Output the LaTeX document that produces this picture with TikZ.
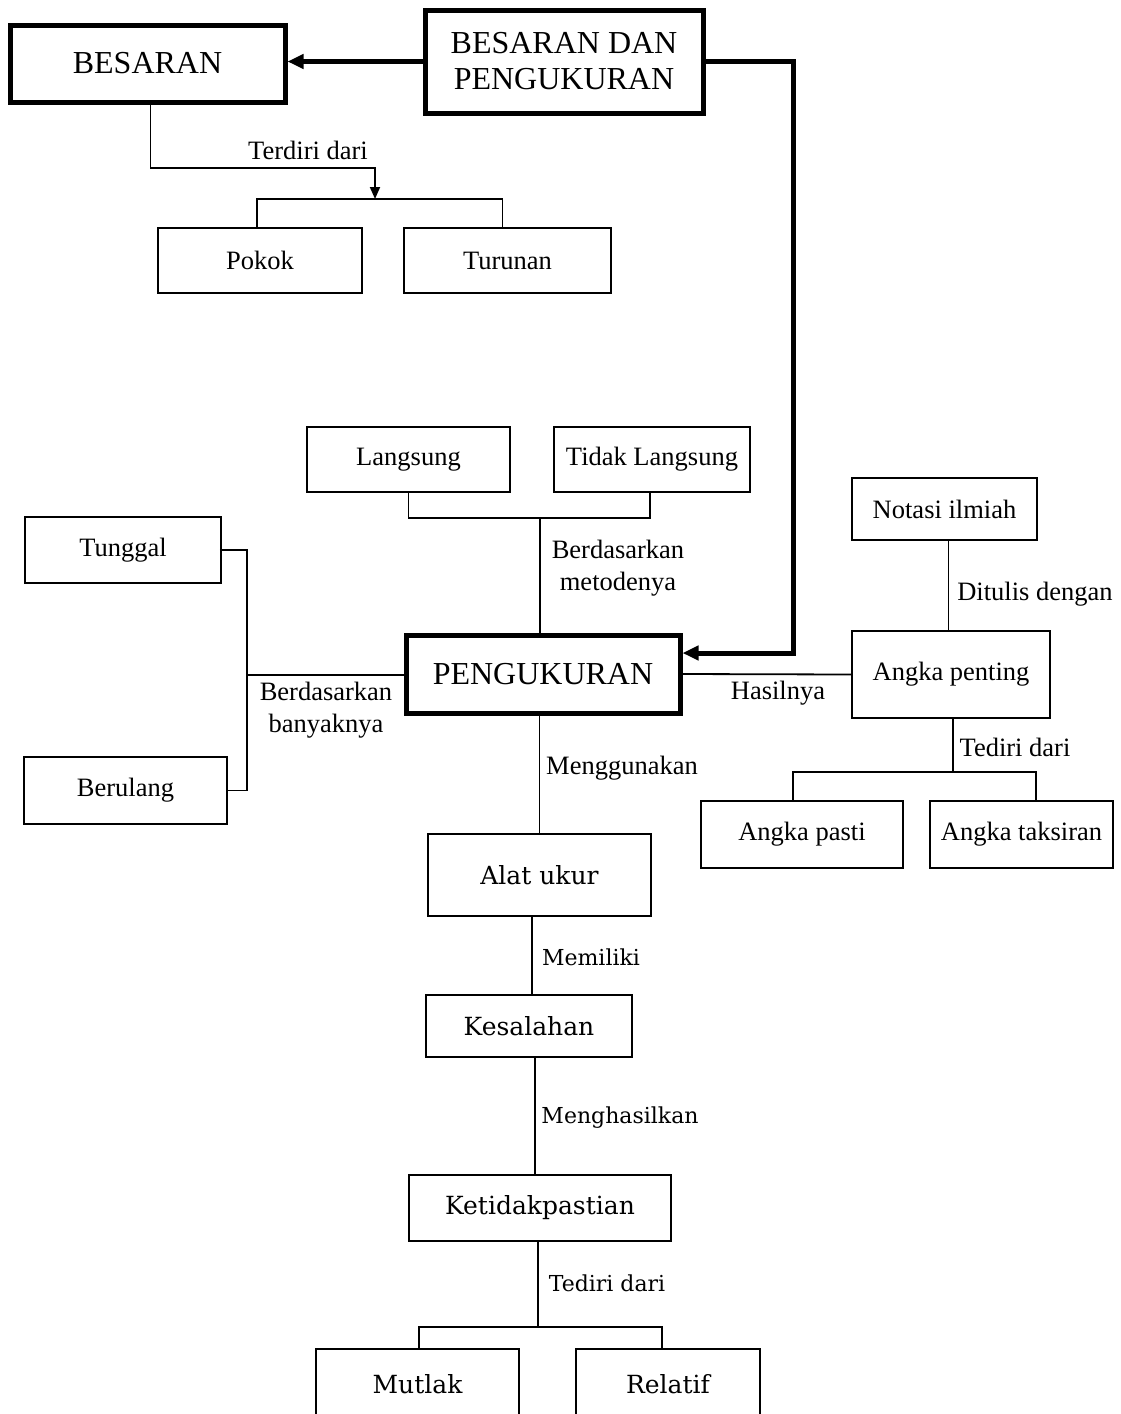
\documentclass[tikz,border=0pt]{standalone}
\usepackage{fontspec}
\setmainfont{Liberation Serif}
\newfontfamily\cambria{DejaVu Serif}
\usepackage{tikz}
\usetikzlibrary{arrows.meta}

\begin{document}
\begin{tikzpicture}[x=1pt, y=-1pt,
    box/.style={draw, line width=1.8pt, inner sep=0pt, font=\fontsize{26.5}{30}\selectfont},
    mainbox/.style={draw, line width=5pt, inner sep=0pt, align=center, font=\fontsize{32}{36}\selectfont},
    cbox/.style={draw, line width=1.8pt, inner sep=0pt, font=\cambria\fontsize{25}{30}\selectfont},
    lbl/.style={inner sep=0pt, align=center, font=\fontsize{26.5}{32}\selectfont},
    clbl/.style={inner sep=0pt, font=\cambria\fontsize{22}{26}\selectfont},
    link/.style={line width=1.8pt},
    heavy/.style={line width=5pt, -{Triangle[length=16pt,width=14pt]}}]
      \useasboundingbox (0,0) rectangle (1121,1414);
      \clip (0,0) rectangle (1121,1414);

      % main boxes
      \node[mainbox, minimum width=275pt, minimum height=77pt] (besaran) at (147.5,63.5) {BESARAN};
      \node[mainbox, minimum width=278pt, minimum height=103pt] (bdp) at (564,61.5) {BESARAN DAN\\PENGUKURAN};
      \node[mainbox, minimum width=274pt, minimum height=78pt] (pengukuran) at (543,674) {PENGUKURAN};

      \node[box, minimum width=204pt, minimum height=65pt] (pokok) at (260,260.5) {Pokok};
      \node[box, minimum width=207pt, minimum height=65pt] (turunan) at (507.5,260.5) {Turunan};
      \node[box, minimum width=203pt, minimum height=65pt] (langsung) at (408.5,459.5) {Langsung};
      \node[box, minimum width=196pt, minimum height=65pt] (tidak) at (652,459.5) {Tidak Langsung};
      \node[box, minimum width=196pt, minimum height=66pt] (tunggal) at (123,550) {Tunggal};
      \node[box, minimum width=203pt, minimum height=67pt] (berulang) at (125.5,790.5) {Berulang};
      \node[box, minimum width=185pt, minimum height=62pt] (notasi) at (944.5,509) {Notasi ilmiah};
      \node[box, minimum width=198pt, minimum height=87pt] (penting) at (951,674.5) {Angka penting};
      \node[box, minimum width=202pt, minimum height=67pt] (pasti) at (802,834.5) {Angka pasti};
      \node[box, minimum width=183pt, minimum height=67pt] (taksiran) at (1021.5,834.5) {Angka taksiran};

      \node[cbox, minimum width=223pt, minimum height=82pt] (alat) at (539.5,875) {Alat ukur};
      \node[cbox, minimum width=206pt, minimum height=62pt] (kesalahan) at (529,1026) {Kesalahan};
      \node[cbox, minimum width=262pt, minimum height=66pt] (ketidakpastian) at (540,1208) {Ketidakpastian};
      \node[cbox, minimum width=203pt, minimum height=70pt] (mutlak) at (417.5,1384) {Mutlak};
      \node[cbox, minimum width=184pt, minimum height=70pt] (relatif) at (668,1384) {Relatif};

      % split points
      \coordinate (tjoin) at (375,168);
      \coordinate (tsplit) at (375,199);
      \coordinate (bend) at (793,653);
      \coordinate (msplit) at (540,518);
      \coordinate (bsplit) at (247,675);
      \coordinate (asplit) at (953,772);
      \coordinate (ksplit) at (538,1327);

      % heavy arrows
      \draw[heavy] (bdp.west) -- (bdp.west -| besaran.east);
      \draw[heavy] (bdp.east) -| (bend) -- (bend -| pengukuran.east);

      % besaran
      \draw[link, -{Triangle[length=12pt,width=10pt]}] ([xshift=3pt]besaran.south) |- (tjoin) -- (tsplit);
      \draw[link] ([xshift=-3pt]pokok.north) |- (tsplit) -| ([xshift=-5pt]turunan.north);
      \node[lbl] (lterdiri) at (308,150) {Terdiri dari};

      % pengukuran
      \draw[link] (langsung.south) |- (msplit) -| ([xshift=-2pt]tidak.south);
      \draw[link] (msplit) -- (msplit |- pengukuran.north);
      \node[lbl] (lmetode) at (618,568) {Berdasarkan\\metodenya};

      \draw[link] ([xshift=-2pt]tunggal.east) -| (bsplit) |- (berulang.east);
      \draw[link] (bsplit) -- (bsplit -| pengukuran.west);
      \node[lbl] (lbanyak) at (326,710) {Berdasarkan\\banyaknya};

      \draw[link] (pengukuran.east) -- (penting.west);
      \node[lbl] (lhasil) at (778,693) {Hasilnya};

      \draw[link] ([xshift=4pt]notasi.south) -- ([xshift=4pt]notasi.south |- penting.north);
      \node[lbl] (ltulis) at (1035,594) {Ditulis dengan};

      \draw[link] (asplit |- penting.south) -- (asplit);
      \draw[link] ([xshift=-9pt]pasti.north) |- (asplit) -| ([xshift=14.5pt]taksiran.north);
      \node[lbl] (ltediri) at (1015,747) {Tediri dari};

      \draw[link] (alat.north |- pengukuran.south) -- (alat.north);
      \node[lbl] (lguna) at (622,768) {Menggunakan};

      \draw[link] ([xshift=3pt]kesalahan.north |- alat.south) -- ([xshift=3pt]kesalahan.north);
      \node[clbl] (lmiliki) at (591,957) {Memiliki};

      \draw[link] ([xshift=6pt]kesalahan.south) -- ([xshift=6pt]kesalahan.south |- ketidakpastian.north);
      \node[clbl] (lhasilkan) at (620,1118) {Menghasilkan};

      \draw[link] (ksplit |- ketidakpastian.south) -- (ksplit);
      \draw[link] ([xshift=1.5pt]mutlak.north) |- (ksplit) -| ([xshift=-6pt]relatif.north);
      \node[clbl] (lterdiri2) at (607,1283) {Tediri dari};
\end{tikzpicture}
\end{document}
